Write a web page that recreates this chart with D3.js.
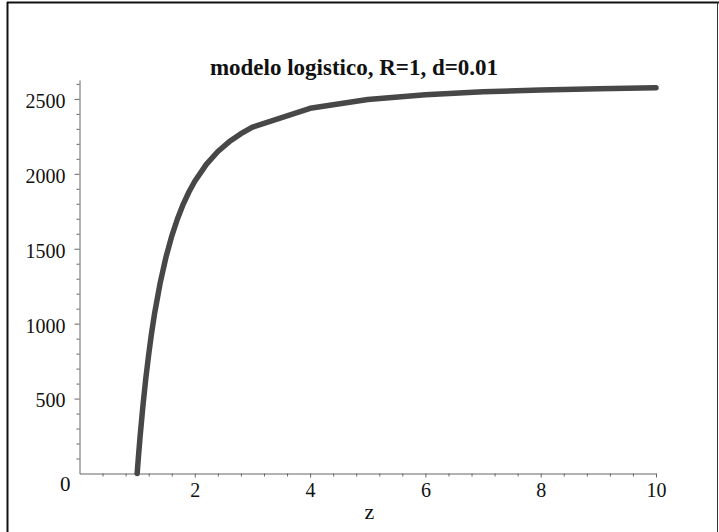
<!DOCTYPE html>
<html>
<head>
<meta charset="utf-8">
<script src="https://cdn.jsdelivr.net/npm/d3@7"></script>
<style>
  html, body { margin: 0; padding: 0; background: #fff; }
  svg { display: block; }
</style>
</head>
<body>
<svg id="chart" width="719" height="532"></svg>
<script>
// ---- data ----
const titleText = "modelo logistico, R=1, d=0.01";
const xLabel = "z";
const zValues   = [1.00, 1.02, 1.05, 1.10, 1.15, 1.20, 1.25, 1.30, 1.40, 1.50, 1.60, 1.70, 1.80, 1.90, 2.00, 2.20, 2.40, 2.60, 2.80, 3.00, 4.00, 5.00, 6.00, 7.00, 8.00, 9.00, 10.00];
const popValues = [0, 101, 242, 451, 634, 794, 936, 1062, 1273, 1444, 1584, 1700, 1798, 1880, 1950, 2063, 2149, 2215, 2268, 2311, 2437, 2496, 2528, 2547, 2559, 2568, 2574];
const xTickValues = [2, 4, 6, 8, 10];
const yTickValues = [500, 1000, 1500, 2000, 2500];
const xDomain = [0, 10];
const yDomain = [0, 2626];

const svg = d3.select("#chart");
const font = "'Liberation Serif', 'Times New Roman', serif";

// frame
svg.append("line").attr("x1", 7).attr("y1", 2.5).attr("x2", 719).attr("y2", 2.5)
  .attr("stroke", "#111").attr("stroke-width", 2);
svg.append("line").attr("x1", 7.5).attr("y1", 2).attr("x2", 7.5).attr("y2", 532)
  .attr("stroke", "#111").attr("stroke-width", 2);
svg.append("line").attr("x1", 717.5).attr("y1", 2).attr("x2", 717.5).attr("y2", 532)
  .attr("stroke", "#333").attr("stroke-width", 1);

const x = d3.scaleLinear().domain(xDomain).range([79.5, 656]);
const y = d3.scaleLinear().domain(yDomain).range([473.5, 80]);

const axisColor = "#666";

// x axis
const gx = svg.append("g").attr("transform", `translate(0,${y(0)})`);
gx.call(d3.axisBottom(x).tickValues(d3.range(0.4, 10.001, 0.4).filter(v => Math.abs(v/2 - Math.round(v/2)) > 1e-6))
  .tickSize(3).tickFormat(""));
gx.call(g => g.select(".domain").remove());
const gx2 = svg.append("g").attr("transform", `translate(0,${y(0)})`);
gx2.call(d3.axisBottom(x).tickValues(xTickValues).tickSize(4).tickSizeOuter(0).tickPadding(6).tickFormat(d3.format("d")));
gx2.selectAll("text").attr("font-family", font).attr("font-size", 20).attr("fill", "#111")
  .attr("dy", "0.68em");

// y axis
const gy = svg.append("g").attr("transform", `translate(${x(0)},0)`);
gy.call(d3.axisLeft(y).tickValues(d3.range(100, 2601, 100).filter(v => v % 500 !== 0)).tickSize(3).tickFormat(""));
gy.call(g => g.select(".domain").remove());
const gy2 = svg.append("g").attr("transform", `translate(${x(0)},0)`);
gy2.call(d3.axisLeft(y).tickValues(yTickValues).tickSize(5).tickSizeOuter(0).tickPadding(9).tickFormat(d3.format("d")));
gy2.selectAll("text").attr("font-family", font).attr("font-size", 20).attr("fill", "#111")
  .attr("dy", "0.42em");
svg.selectAll(".domain, .tick line").attr("stroke", axisColor).attr("stroke-width", 1);

// origin label
svg.append("text").attr("x", x(0) - 9).attr("y", y(0) + 17)
  .attr("text-anchor", "end").attr("font-family", font).attr("font-size", 21).attr("fill", "#111")
  .text("0");

// curve
const pts = zValues.map((z, i) => [z, popValues[i]]);
svg.append("path").datum(pts)
  .attr("fill", "none").attr("stroke", "#474747").attr("stroke-width", 5.5)
  .attr("stroke-linecap", "round").attr("stroke-linejoin", "round")
  .attr("d", d3.line().x(d => x(d[0])).y(d => y(d[1])));

// title
svg.append("text").attr("x", 354).attr("y", 74.5).attr("text-anchor", "middle")
  .attr("font-family", font).attr("font-weight", "bold").attr("font-size", 23).attr("fill", "#111")
  .text(titleText);

// x label
svg.append("text").attr("x", 369.5).attr("y", 519).attr("text-anchor", "middle")
  .attr("font-family", font).attr("font-size", 22).attr("fill", "#111")
  .text(xLabel);
</script>
</body>
</html>
